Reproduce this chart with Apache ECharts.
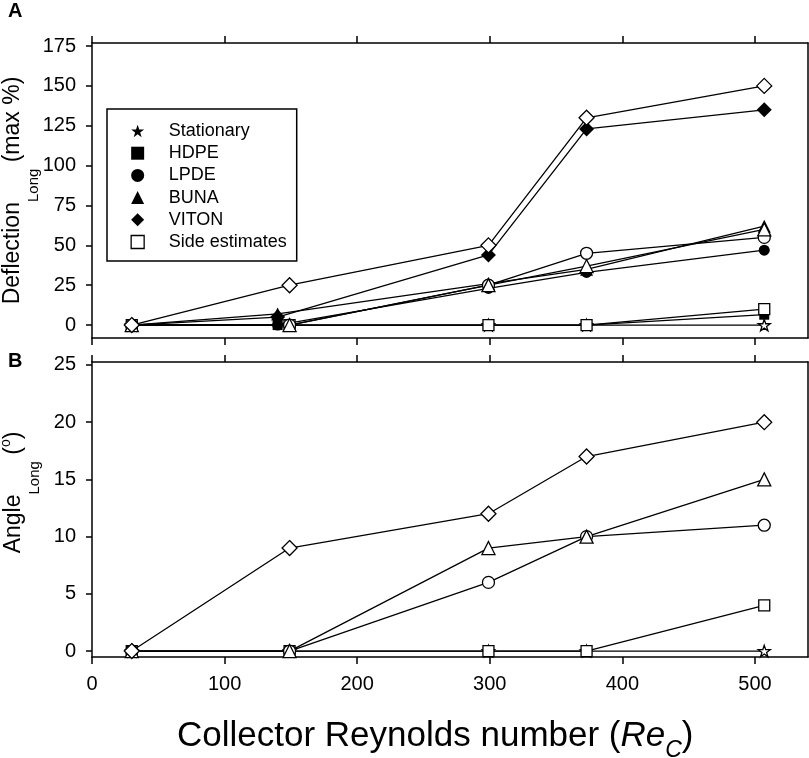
<!DOCTYPE html>
<html>
<head>
<meta charset="utf-8">
<script src="https://cdn.jsdelivr.net/npm/echarts@6/dist/echarts.min.js"></script>
<style>
  html, body { margin: 0; padding: 0; background: #fff; }
  #chart { width: 809px; height: 758px; }
</style>
</head>
<body>
<div id="chart"></div>
<script>
// collector Reynolds number positions (filled markers sit slightly left at the 2nd step)
var xFilled = [30, 140, 299, 373, 507];
var xOpen = [30, 149, 299, 373, 507];

// panel A: longitudinal deflection (% of max)
var defHDPE = [0, 0, 0, 0, 6.5];
var defLPDE = [0, 0, 23, 33, 47];
var defBUNA = [0, 7, 26, 35, 62];
var defVITON = [0, 5, 44, 123, 135];
var defSideStat = [0, 0, 0, 0, 0];
var defSideHDPE = [0, 0, 0, 0, 10];
var defSideLPDE = [0, 0, 25, 45, 55];
var defSideBUNA = [0, 0, 25, 37, 60];
var defSideVITON = [0, 25, 50, 130, 150];

// panel B: longitudinal angle (degrees), side estimates only
var angSideStat = [0, 0, 0, 0, 0];
var angSideHDPE = [0, 0, 0, 0, 4];
var angSideLPDE = [0, 0, 6, 10, 11];
var angSideBUNA = [0, 0, 9, 10, 15];
var angSideVITON = [0, 9, 12, 17, 20];

var xTicks = [0, 100, 200, 300, 400, 500];
var defTicks = [0, 25, 50, 75, 100, 125, 150, 175];
var angTicks = [0, 5, 10, 15, 20, 25];

var FONT = 'Liberation Sans, Arial, sans-serif';
var STAR = 'path://M50,0 L61.8,35.1 L98.1,35.1 L68.8,56.7 L79.4,91.5 L50,70 L20.6,91.5 L31.2,56.7 L1.9,35.1 L38.2,35.1 Z';

function pairs(xs, ys) {
    return ys.map(function (y, i) { return [xs[i], y]; });
}

function mk(name, xs, ys, grid, symbol, size, filled) {
    return {
        name: name,
        type: 'line',
        xAxisIndex: grid * 2,
        yAxisIndex: grid * 2,
        data: pairs(xs, ys),
        symbol: symbol,
        symbolSize: size,
        symbolKeepAspect: true,
        showAllSymbol: true,
        lineStyle: { color: '#000', width: 1.3 },
        itemStyle: {
            color: filled ? '#000' : '#fff',
            borderColor: '#000',
            borderWidth: filled ? 0 : 1.3
        },
        emphasis: { disabled: true }
    };
}

var tickX = { show: true, inside: false, length: 7, customValues: xTicks, lineStyle: { color: '#000', width: 1.5 } };
var axLine = { show: true, onZero: false, lineStyle: { color: '#000', width: 1.5 } };

// rich styles for the rotated y titles: main text, subscript, superscript
var yRich = {
    a: { fontSize: 23, lineHeight: 23, verticalAlign: 'top', padding: [3, 0, 0, 0], color: '#000', fontFamily: FONT },
    s: { fontSize: 15, lineHeight: 43, verticalAlign: 'bottom', color: '#000', fontFamily: FONT },
    o: { fontSize: 14, lineHeight: 14, verticalAlign: 'top', color: '#000', fontFamily: FONT }
};

var chart = echarts.init(document.getElementById('chart'));
var option = {
    animation: false,
    backgroundColor: '#fff',
    textStyle: { fontFamily: FONT },
    graphic: [
        { type: 'text', left: 8, top: 1, style: { text: 'A', font: 'bold 20px ' + FONT, fill: '#000' } },
        { type: 'text', left: 8, top: 351, style: { text: 'B', font: 'bold 20px ' + FONT, fill: '#000' } },
        {
            type: 'text', left: 177, top: 719,
            style: {
                text: '{a|Collector Reynolds number (}{i|Re}{c|C}{a|)}',
                rich: {
                    a: { fontSize: 35, lineHeight: 35, verticalAlign: 'top', fill: '#000', fontFamily: FONT },
                    i: { fontSize: 35, lineHeight: 35, verticalAlign: 'top', fontStyle: 'italic', fill: '#000', fontFamily: FONT },
                    c: { fontSize: 23, lineHeight: 43, verticalAlign: 'bottom', fontStyle: 'italic', fill: '#000', fontFamily: FONT }
                }
            }
        }
    ],
    grid: [
        { left: 92, right: 1, top: 43, bottom: 420, outerBoundsMode: 'none', containLabel: false },
        { left: 92, right: 1, top: 362, bottom: 101, outerBoundsMode: 'none', containLabel: false }
    ],
    legend: {
        orient: 'vertical',
        left: 107,
        top: 109,
        padding: [13, 10, 10, 23.5],
        itemWidth: 13,
        itemHeight: 13,
        itemGap: 4.2,
        backgroundColor: '#fff',
        borderColor: '#000',
        borderWidth: 1.5,
        borderRadius: 0,
        selectedMode: false,
        textStyle: { fontSize: 18, lineHeight: 18, color: '#000', fontFamily: FONT, padding: [0, 0, 0, 19.5] },
        data: [
            { name: 'Stationary', icon: STAR, itemStyle: { color: '#000', borderWidth: 0 } },
            { name: 'HDPE', icon: 'rect', itemStyle: { color: '#000', borderWidth: 0 } },
            { name: 'LPDE', icon: 'circle', itemStyle: { color: '#000', borderWidth: 0 } },
            { name: 'BUNA', icon: 'triangle', itemStyle: { color: '#000', borderWidth: 0 } },
            { name: 'VITON', icon: 'diamond', itemStyle: { color: '#000', borderWidth: 0 } },
            { name: 'Side estimates', icon: 'rect', itemStyle: { color: '#fff', borderColor: '#000', borderWidth: 1.3 } }
        ]
    },
    xAxis: [
        { gridIndex: 0, type: 'value', min: 0, max: 540, position: 'bottom', axisLine: axLine, axisTick: tickX, axisLabel: { show: false }, splitLine: { show: false } },
        { gridIndex: 0, type: 'value', min: 0, max: 540, position: 'top', axisLine: axLine, axisTick: tickX, axisLabel: { show: false }, splitLine: { show: false } },
        {
            gridIndex: 1, type: 'value', min: 0, max: 540, position: 'bottom',
            axisLine: axLine, axisTick: tickX, splitLine: { show: false },
            axisLabel: { customValues: xTicks, fontSize: 20, color: '#000', margin: 17, fontFamily: FONT }
        },
        { gridIndex: 1, type: 'value', min: 0, max: 540, position: 'top', axisLine: axLine, axisTick: tickX, axisLabel: { show: false }, splitLine: { show: false } }
    ],
    yAxis: [
        {
            gridIndex: 0, type: 'value', min: -8.1, max: 176.9, position: 'left',
            axisLine: axLine, splitLine: { show: false },
            axisTick: { show: true, length: 6, customValues: defTicks, lineStyle: { color: '#000', width: 1.5 } },
            axisLabel: { customValues: defTicks, fontSize: 20, color: '#000', margin: 16, fontFamily: FONT },
            name: '{a|Deflection}{s|Long}{a| (max %)}',
            nameLocation: 'middle',
            nameRotate: 90,
            nameGap: 51,
            nameMoveOverlap: false,
            nameTextStyle: { rich: yRich }
        },
        { gridIndex: 0, type: 'value', min: -8.1, max: 176.9, position: 'right', axisLine: axLine, axisTick: { show: false }, axisLabel: { show: false }, splitLine: { show: false } },
        {
            gridIndex: 1, type: 'value', min: -0.52, max: 25.26, position: 'left',
            axisLine: axLine, splitLine: { show: false },
            axisTick: { show: true, length: 6, customValues: angTicks, lineStyle: { color: '#000', width: 1.5 } },
            axisLabel: { customValues: angTicks, fontSize: 20, color: '#000', margin: 16, fontFamily: FONT },
            name: '{a|Angle}{s|Long}{a| (}{o|o}{a|)}',
            nameLocation: 'middle',
            nameRotate: 90,
            nameGap: 50,
            nameMoveOverlap: false,
            nameTextStyle: { padding: [0, 0, 0, 34], rich: yRich }
        },
        { gridIndex: 1, type: 'value', min: -0.52, max: 25.26, position: 'right', axisLine: axLine, axisTick: { show: false }, axisLabel: { show: false }, splitLine: { show: false } }
    ],
    series: [
        // panel A, filled markers (Stationary only appears in the legend)
        mk('Stationary', [], [], 0, STAR, 12, true),
        mk('HDPE', xFilled, defHDPE, 0, 'rect', 10, true),
        mk('LPDE', xFilled, defLPDE, 0, 'circle', 11, true),
        mk('BUNA', xFilled, defBUNA, 0, 'triangle', 13, true),
        mk('VITON', xFilled, defVITON, 0, 'diamond', 15, true),
        // panel A, open markers
        mk('sideStat', xOpen, defSideStat, 0, STAR, 12, false),
        mk('Side estimates', xOpen, defSideHDPE, 0, 'rect', 11, false),
        mk('sideLPDE', xOpen, defSideLPDE, 0, 'circle', 12, false),
        mk('sideBUNA', xOpen, defSideBUNA, 0, 'triangle', 13, false),
        mk('sideVITON', xOpen, defSideVITON, 0, 'diamond', 15, false),
        // panel B
        mk('angStat', xOpen, angSideStat, 1, STAR, 12, false),
        mk('angHDPE', xOpen, angSideHDPE, 1, 'rect', 11, false),
        mk('angLPDE', xOpen, angSideLPDE, 1, 'circle', 12, false),
        mk('angBUNA', xOpen, angSideBUNA, 1, 'triangle', 13, false),
        mk('angVITON', xOpen, angSideVITON, 1, 'diamond', 15, false)
    ]
};
chart.setOption(option);
</script>
</body>
</html>
